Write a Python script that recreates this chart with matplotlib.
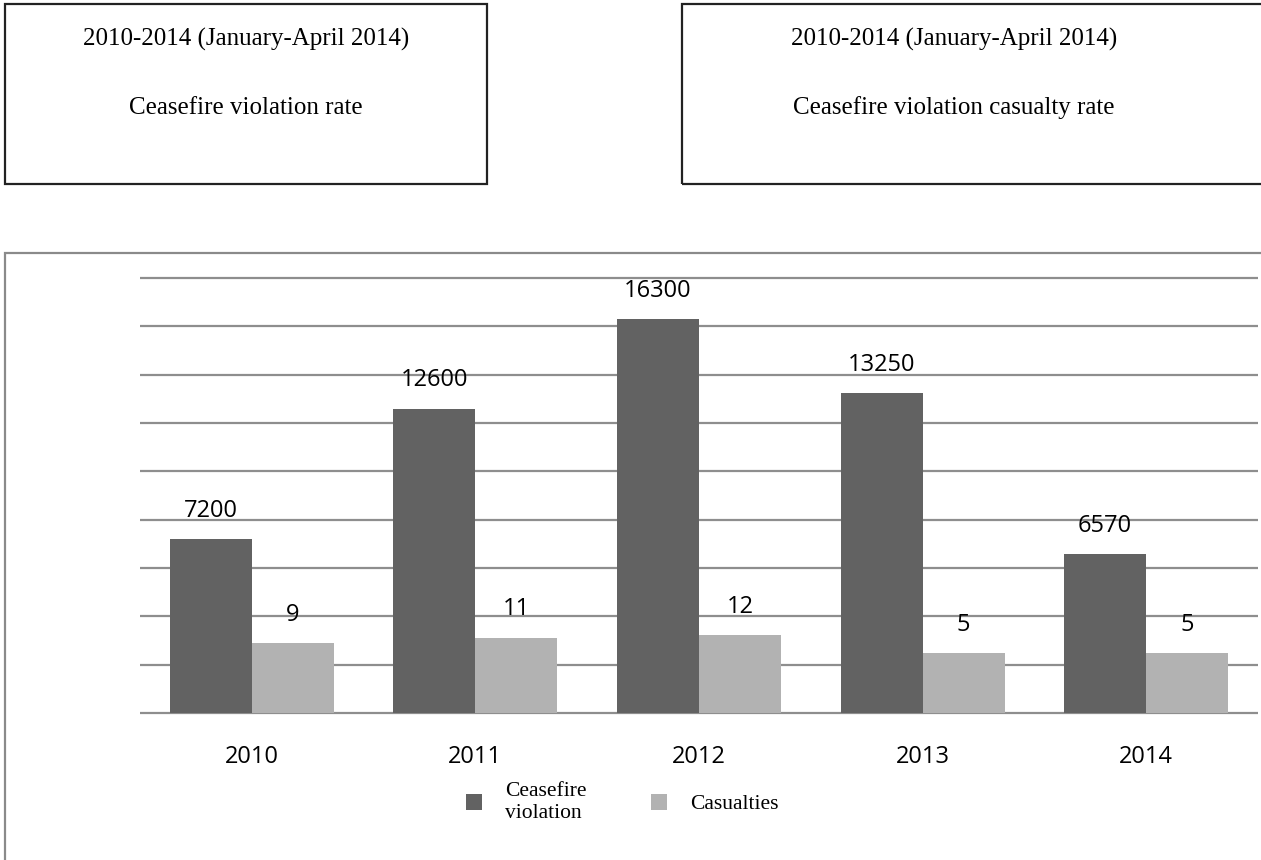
import matplotlib
matplotlib.use("Agg")
import matplotlib.pyplot as plt
from matplotlib.patches import Rectangle
import numpy as np

W, H = 1261, 860

years = ["2010", "2011", "2012", "2013", "2014"]
violations = [7200, 12600, 16300, 13250, 6570]
casualties = [9, 11, 12, 5, 5]

title_top = "2010-2014 (January-April 2014)"
title_left = "Ceasefire violation rate"
title_right = "Ceasefire violation casualty rate"

dark = "#626262"
light = "#b2b2b2"
grid_col = "#8e8e8e"
num_font = ["Open Sans", "DejaVu Sans"]
serif = ["Liberation Serif", "DejaVu Serif"]

fig = plt.figure(figsize=(W / 100, H / 100), dpi=100)


def px(x, y):
    # pixel position (from top-left) -> figure fraction
    return x / W, 1 - y / H


# two title boxes at the top
for x0, x1, sub in [(5, 487, title_left), (682, 1275, title_right)]:
    fx0, fy0 = px(x0, 184)
    fx1, fy1 = px(x1, 4)
    fig.add_artist(Rectangle((fx0, fy0), fx1 - fx0, fy1 - fy0, transform=fig.transFigure,
                             fill=False, edgecolor="#222222", linewidth=1.6, clip_on=False))
    cx = (x0 + min(x1, 1226)) / 2 if x1 > W else (x0 + x1) / 2
    fig.text(*px(cx, 39), title_top, ha="center", va="center", fontsize=18, family=serif)
    fig.text(*px(cx, 108), sub, ha="center", va="center", fontsize=18, family=serif)

# chart frame
fx0, fy_top = px(5, 253)
fig.add_artist(Rectangle((fx0, -0.02), 1.05 - fx0, fy_top + 0.02, transform=fig.transFigure,
                         fill=False, edgecolor="#8a8a8a", linewidth=1.6, clip_on=False))

left, bottom = px(140, 713)
right, top = px(1258, 278)
ax = fig.add_axes([left, bottom, right - left, top - bottom])
ax2 = ax.twinx()

lo2, hi2 = -18, 149.5

x = np.arange(len(years))
bw = 0.367
b1 = ax.bar(x - bw / 2, violations, bw, color=dark, zorder=3)
# casualties sit on their own scale, bars rise from the bottom of that scale
b2 = ax2.bar(x + bw / 2, np.array(casualties) - lo2, bw, bottom=lo2, color=light, zorder=3)

ax.set_xlim(-0.5, len(years) - 0.5)
ax.set_ylim(0, 18000)
ax.set_yticks(np.arange(0, 18001, 2000))
ax2.set_ylim(lo2, hi2)
ax.yaxis.grid(True, color=grid_col, linewidth=1.6, zorder=0, solid_capstyle="butt")
ax.set_axisbelow(True)
for gl in ax.get_ygridlines():
    gl.set_clip_on(False)

for a in (ax, ax2):
    for s in a.spines.values():
        s.set_visible(False)
    a.tick_params(left=False, right=False, labelleft=False, labelright=False)

ax.set_xticks(x)
ax.set_xticklabels(years, fontsize=17, family=num_font)
ax.tick_params(axis="x", length=0, pad=23)

for rect, v in zip(b1, violations):
    ax.annotate(str(v), (rect.get_x() + rect.get_width() / 2, v), xytext=(0, 16),
                textcoords="offset points", ha="center", va="baseline",
                fontsize=17, family=num_font)
for rect, v in zip(b2, casualties):
    ax2.annotate(str(v), (rect.get_x() + rect.get_width() / 2, v), xytext=(0, 16),
                 textcoords="offset points", ha="center", va="baseline",
                 fontsize=17, family=num_font)

fig.legend([b1[0], b2[0]], ["Ceasefire\nviolation", "Casualties"], ncol=2,
           loc="upper left", bbox_to_anchor=px(466, 782), frameon=False,
           prop={"family": serif, "size": 15.5}, handlelength=0.72, handleheight=0.72,
           handletextpad=1.1, columnspacing=3.0, borderpad=0, borderaxespad=0,
           labelspacing=0.1)

fig.savefig("out.png", dpi=100)
